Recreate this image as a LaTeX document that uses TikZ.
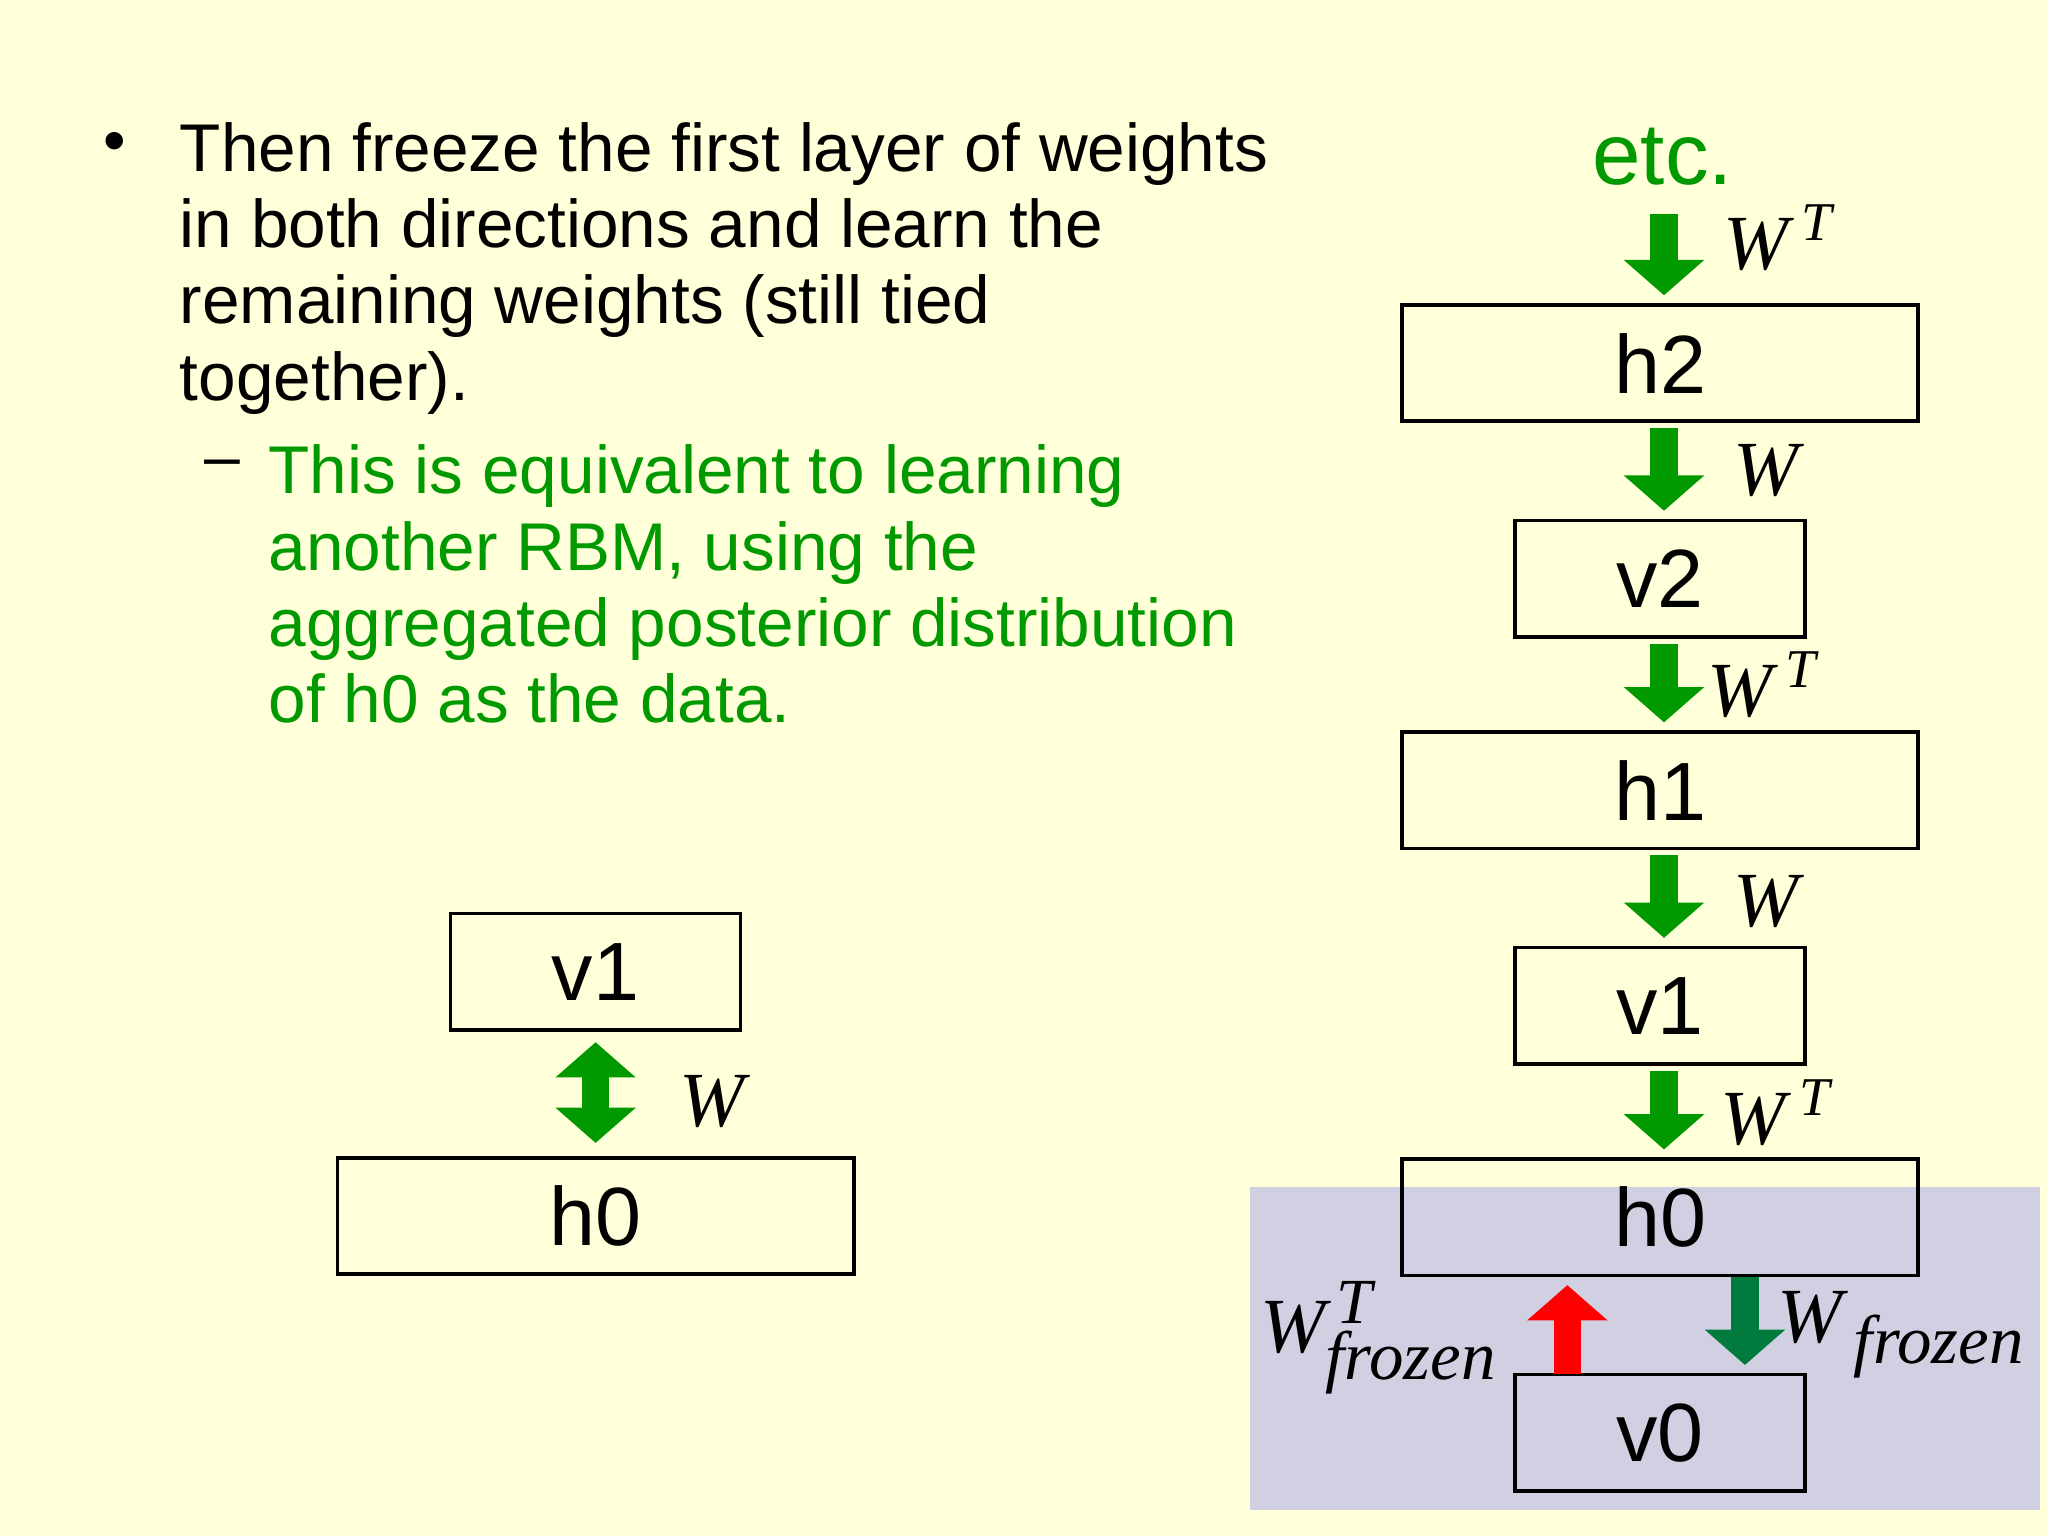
\documentclass[tikz,border=0pt]{standalone}
\usepackage{fontspec}
\setmainfont{Liberation Sans}
\usetikzlibrary{arrows.meta}
\definecolor{slidebg}{RGB}{255,255,217}
\definecolor{slidegreen}{RGB}{0,153,0}
\definecolor{darkgreen}{RGB}{0,122,61}
\definecolor{frozenbg}{RGB}{208,208,226}
\newfontfamily\timesit{Liberation Serif}
\newcommand{\wfont}[2]{\hbox{\timesit\itshape\fontsize{#1}{#1}\selectfont #2}}

\begin{document}
\begin{tikzpicture}[x=0.01cm,y=-0.01cm,
	layer/.style={draw,line width=0.8pt,fill=slidebg,inner sep=0pt,font=\fontsize{18}{20}\selectfont},
	wide/.style={layer,minimum width=3.95cm,minimum height=0.89cm},
	narrow/.style={layer,minimum width=2.22cm,minimum height=0.89cm},
	fat/.style={line width=0.21cm,-{Triangle[width=0.6cm,length=0.27cm]},shorten <=0.04cm,shorten >=0.06cm},
	wlab/.style={font=\timesit\itshape\fontsize{17}{19}\selectfont},
	para/.style={anchor=north west,inner sep=0pt,align=left,font=\fontsize{14.7}{16.6}\selectfont}
	]
	% Page
	\fill[slidebg] (0,0) rectangle (1568,1176);
	\useasboundingbox (0,0) rectangle (1568,1176);
	
	% Text on the left
	\node[para] (txt) at (137,93)
	{Then freeze the first layer of weights\\ in both directions and learn the\\ remaining weights (still tied\\ together).};
	\node[font=\fontsize{14}{16}\selectfont] (dot) at (88,113) {\textbullet};
	\node[para,text=slidegreen] (sub) at (205,340)
	{This is equivalent to learning\\ another RBM, using the\\ aggregated posterior distribution\\ of h0 as the data.};
	\node[font=\fontsize{14}{16}\selectfont] (dash) at (170,359) {--};
	
	% Left RBM
	\node[narrow] (lv1) at (456,744) {v1};
	\node[wide] (lh0) at (456,931) {h0};
	\draw[slidegreen,line width=0.21cm,{Triangle[width=0.6cm,length=0.27cm]}-{Triangle[width=0.6cm,length=0.27cm]},
	shorten <=0.08cm,shorten >=0.1cm] (lv1) -- (lh0);
	\node[wlab] (lw) at (545,843) {W};
	
	% Frozen part
	\fill[frozenbg] (957,909) rectangle (1562,1156);
	
	% Right stack
	\node[text=slidegreen,font=\fontsize{19}{21}\selectfont] (etc) at (1273,120) {etc.};
	\node[wide] (h2) at (1271,278) {h2};
	\node[narrow] (v2) at (1271,443) {v2};
	\node[wide] (h1) at (1271,605) {h1};
	\node[narrow] (v1) at (1271,770) {v1};
	\node[wide,fill=none] (h0) at (1271,932) {h0};
	\node[narrow,fill=none] (v0) at (1271,1097) {v0};
	
	\coordinate (etcb) at (1274,160);
	\draw[fat,slidegreen] (etcb) -- (etcb|-h2.north);
	\foreach \a/\b in {h2/v2,v2/h1,h1/v1,v1/h0}
	\draw[fat,slidegreen] (etcb|-\a.south) -- (etcb|-\b.north);
	
	\node[wlab] (w1) at (1362,182) {W\,\textsuperscript{T}};
	\node[wlab] (w2) at (1352,360) {W};
	\node[wlab] (w3) at (1350,524) {W\,\textsuperscript{T}};
	\node[wlab] (w4) at (1352,690) {W};
	\node[wlab] (w5) at (1360,852) {W\,\textsuperscript{T}};
	
	% Frozen weights
	\coordinate (up) at (1200,1052);
	\coordinate (dn) at (1336,978);
	\draw[fat,red,shorten <=0pt] (up) -- (up|-h0.south);
	\draw[fat,darkgreen,shorten <=0pt] (dn) -- (dn|-v0.north);
	\node[wlab] (wf1) at (1056,1024) {W$^{\wfont{14}{\,T}}_{\wfont{15}{frozen}}$};
	\node[wlab] (wf2) at (1456,1022) {W$_{\wfont{15}{\,frozen}}$};
\end{tikzpicture}
\end{document}
